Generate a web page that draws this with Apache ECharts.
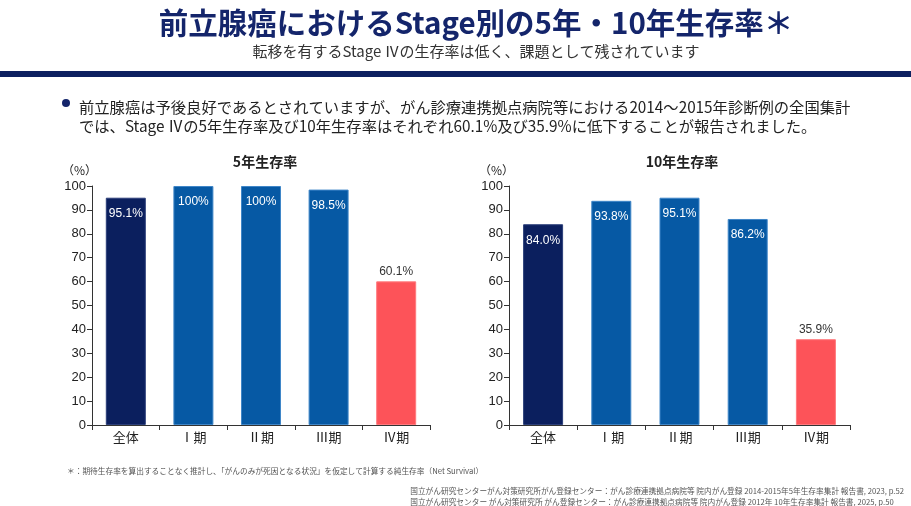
<!DOCTYPE html>
<html><head><meta charset="utf-8">
<script src="https://cdn.jsdelivr.net/npm/echarts@6/dist/echarts.min.js"></script>
<style>html,body{margin:0;padding:0;background:#fff}#c{width:911px;height:506px}</style>
</head><body><div id="c"></div>
<script>
const categories = ['全体', 'Ⅰ期', 'Ⅱ期', 'Ⅲ期', 'Ⅳ期'];
const survival5 = [95.1, 100, 100, 98.5, 60.1];
const survival10 = [84.0, 93.8, 95.1, 86.2, 35.9];
const labels5 = ['95.1%', '100%', '100%', '98.5%', '60.1%'];
const labels10 = ['84.0%', '93.8%', '95.1%', '86.2%', '35.9%'];
const yTicks = [0, 10, 20, 30, 40, 50, 60, 70, 80, 90, 100];

const FONT = '"Noto Sans CJK JP", "Noto Sans", sans-serif';
const NAVY = '#0b1f5e', BLUE = '#0659a4', RED = '#fd5359';

function items(vals, labs) {
  return vals.map((v, i) => {
    const last = i === vals.length - 1;
    return {
      value: v,
      itemStyle: {
        color: i === 0 ? NAVY : (last ? RED : BLUE),
        borderColor: i === 0 ? '#2c3f7a' : (last ? '#ff7a7e' : '#3f86c8'),
        borderWidth: 1
      },
      label: {
        show: true,
        formatter: labs[i],
        position: last ? 'top' : 'insideTop',
        distance: last ? 4 : 10,
        color: last ? '#333' : '#fff',
        fontSize: 12,
        fontFamily: 'Arial, "Liberation Sans", sans-serif'
      }
    };
  });
}

const chart = echarts.init(document.getElementById('c'));
const grids = [
  {left: 92, top: 186, width: 338, height: 239},
  {left: 509, top: 186, width: 341, height: 239}
];
function xAxis(g) {
  return {
    type: 'category', gridIndex: g, data: categories,
    axisLine: {lineStyle: {color: '#333', width: 1}},
    axisTick: {show: true, length: 5, lineStyle: {color: '#333'}},
    axisLabel: {color: '#222', fontSize: 13, fontFamily: FONT, margin: 6}
  };
}
function yAxis(g) {
  return {
    type: 'value', gridIndex: g, min: yTicks[0], max: yTicks[yTicks.length - 1], interval: yTicks[1] - yTicks[0],
    axisLine: {show: true, lineStyle: {color: '#333', width: 1}},
    axisTick: {show: true, length: 5, lineStyle: {color: '#333'}},
    splitLine: {show: false},
    axisLabel: {color: '#222', fontSize: 13, fontFamily: 'Arial, "Liberation Sans", sans-serif', margin: 6}
  };
}
chart.setOption({
  animation: false,
  title: [
    {text: '前立腺癌におけるStage別の5年・10年生存率＊', left: 471, top: 3, textAlign: 'center',
     textStyle: {fontSize: 29.5, fontWeight: 'bold', color: '#14256b', fontFamily: FONT}},
    {text: '転移を有するStage Ⅳの生存率は低く、課題として残されています', left: 471, top: 39, textAlign: 'center',
     textStyle: {fontSize: 15, fontWeight: 'normal', color: '#333', fontFamily: FONT}},
    {text: '前立腺癌は予後良好であるとされていますが、がん診療連携拠点病院等における2014～2015年診断例の全国集計\nでは、Stage Ⅳの5年生存率及び10年生存率はそれぞれ60.1%及び35.9%に低下することが報告されました。',
     left: 74, top: 93, textStyle: {fontSize: 15.3, fontWeight: 'normal', color: '#222', lineHeight: 19, fontFamily: FONT}},
    {text: '5年生存率', left: 260, top: 150, textAlign: 'center',
     textStyle: {fontSize: 14, fontWeight: 'bold', color: '#222', fontFamily: FONT}},
    {text: '10年生存率', left: 677, top: 150, textAlign: 'center',
     textStyle: {fontSize: 14, fontWeight: 'bold', color: '#222', fontFamily: FONT}},
    {text: '（%）', left: 57, top: 159, textStyle: {fontSize: 12, fontWeight: 'normal', color: '#222', fontFamily: FONT}},
    {text: '（%）', left: 474, top: 159, textStyle: {fontSize: 12, fontWeight: 'normal', color: '#222', fontFamily: FONT}},
    {text: '＊：期待生存率を算出することなく推計し、「がんのみが死因となる状況」を仮定して計算する純生存率（Net Survival）',
     left: 62, top: 462, textStyle: {fontSize: 7.7, fontWeight: 'normal', color: '#555', fontFamily: FONT}},
    {text: '国立がん研究センターがん対策研究所がん登録センター：がん診療連携拠点病院等 院内がん登録 2014-2015年5年生存率集計 報告書, 2023, p.52\n国立がん研究センター がん対策研究所 がん登録センター：がん診療連携拠点病院等 院内がん登録 2012年 10年生存率集計 報告書, 2025, p.50',
     right: 2, top: 481,
     textStyle: {fontSize: 7.7, fontWeight: 'normal', color: '#555', lineHeight: 11, align: 'right', fontFamily: FONT}}
  ],
  graphic: [
    {type: 'rect', shape: {x: 0, y: 71, width: 911, height: 6}, style: {fill: '#0d2060'}},
    {type: 'circle', shape: {cx: 66, cy: 103, r: 4}, style: {fill: '#14256b'}}
  ],
  grid: grids,
  xAxis: [xAxis(0), xAxis(1)],
  yAxis: [yAxis(0), yAxis(1)],
  series: [
    {type: 'bar', xAxisIndex: 0, yAxisIndex: 0, barWidth: 40, data: items(survival5, labels5)},
    {type: 'bar', xAxisIndex: 1, yAxisIndex: 1, barWidth: 40, data: items(survival10, labels10)}
  ]
});
</script></body></html>
